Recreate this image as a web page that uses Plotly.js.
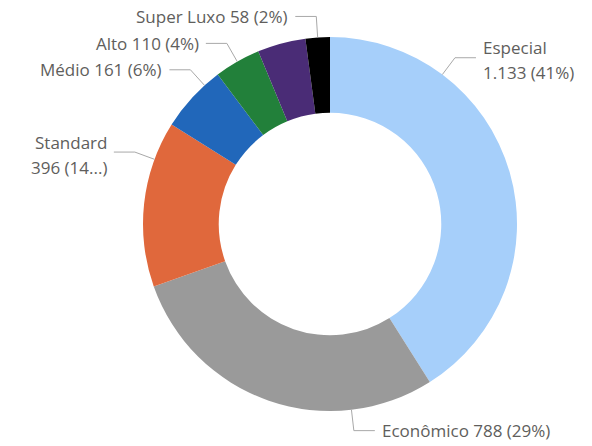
<!DOCTYPE html>
<html>
<head>
<meta charset="utf-8">
<script src="https://cdn.plot.ly/plotly-3.0.1.min.js"></script>
<style>html,body{margin:0;padding:0;background:#fff;}</style>
</head>
<body>
<div id="chart" style="width:592px;height:446px;"></div>
<script>
// ---- data ----
const categories = ["Especial", "Econômico", "Standard", "Médio", "Alto", "Luxo", "Super Luxo"];
const values = [1133, 788, 396, 161, 110, 115, 58];
const colors = ["#A6CFFA", "#9A9A9A", "#E0683C", "#2167BA", "#22803A", "#4A2C76", "#000000"];
// label styling (not data): whether shown, where along slice the leader starts, layout
const labelShown = [true, true, true, true, true, false, true];
const labelAnchorFrac = [0.25, 0.25, 0.77, 0.75, 0.5, 0.5, 0.5];
const labelTwoLines = [true, false, true, false, false, false, false];
const labelMaxPct = [null, null, 2, null, null, null, null];

// ---- geometry (pixels) ----
const W = 592, H = 446;
const cx = 330, cy = 224, R = 187;
const radialLen = 21, horizLen = 21, gap = 5, lineGap = 25;
const font = {family: "Open Sans, Noto Sans, sans-serif", size: 17, color: "#605E5C"};

function fmt(n) {
  return String(n).replace(/\B(?=(\d{3})+(?!\d))/g, ".");
}

const total = values.reduce((a, b) => a + b, 0);
const annotations = [];
const shapes = [];
const toX = p => p / W, toY = p => 1 - p / H;
let cum = 0;
values.forEach((v, i) => {
  const start = cum / total * 360;
  const span = v / total * 360;
  cum += v;
  if (!labelShown[i]) return;
  const ang = (start + span * labelAnchorFrac[i]) * Math.PI / 180;
  const sx = Math.sin(ang), sy = -Math.cos(ang);
  const px = cx + R * sx, py = cy + R * sy;
  const ex = cx + (R + radialLen) * sx, ey = cy + (R + radialLen) * sy;
  const right = sx >= 0;
  const hx = ex + (right ? horizLen : -horizLen);
  shapes.push({
    type: "path", xref: "paper", yref: "paper",
    path: `M ${toX(px)} ${toY(py)} L ${toX(ex)} ${toY(ey)} L ${toX(hx)} ${toY(ey)}`,
    line: {color: "#A8A8A8", width: 1}
  });
  const pct = String(Math.round(v / total * 100));
  let pctTxt = "(" + pct + "%)";
  if (labelMaxPct[i]) pctTxt = "(" + pct.slice(0, labelMaxPct[i]) + "...)";
  const valTxt = fmt(v) + " " + pctTxt;
  const lines = labelTwoLines[i] ? [[categories[i], -10], [valTxt, 15]]
                                 : [[categories[i] + " " + valTxt, 0]];
  lines.forEach(([t, dy]) => {
    annotations.push({
      xref: "paper", yref: "paper",
      x: toX(hx + (right ? gap : -gap)), y: toY(ey + dy),
      xanchor: right ? "left" : "right", yanchor: "middle",
      text: t, showarrow: false, font: font
    });
  });
});

const trace = {
  type: "pie",
  labels: categories,
  values: values,
  hole: 0.595,
  sort: false,
  direction: "clockwise",
  rotation: 0,
  textinfo: "none",
  hoverinfo: "label+value+percent",
  marker: {colors: colors, line: {width: 0}},
  domain: {x: [(cx - R) / W, (cx + R) / W], y: [(H - cy - R) / H, (H - cy + R) / H]}
};

const layout = {
  width: W, height: H,
  margin: {l: 0, r: 0, t: 0, b: 0},
  showlegend: false,
  paper_bgcolor: "#ffffff",
  annotations: annotations,
  shapes: shapes
};

Plotly.newPlot("chart", [trace], layout, {displayModeBar: false, staticPlot: true});
</script>
</body>
</html>
